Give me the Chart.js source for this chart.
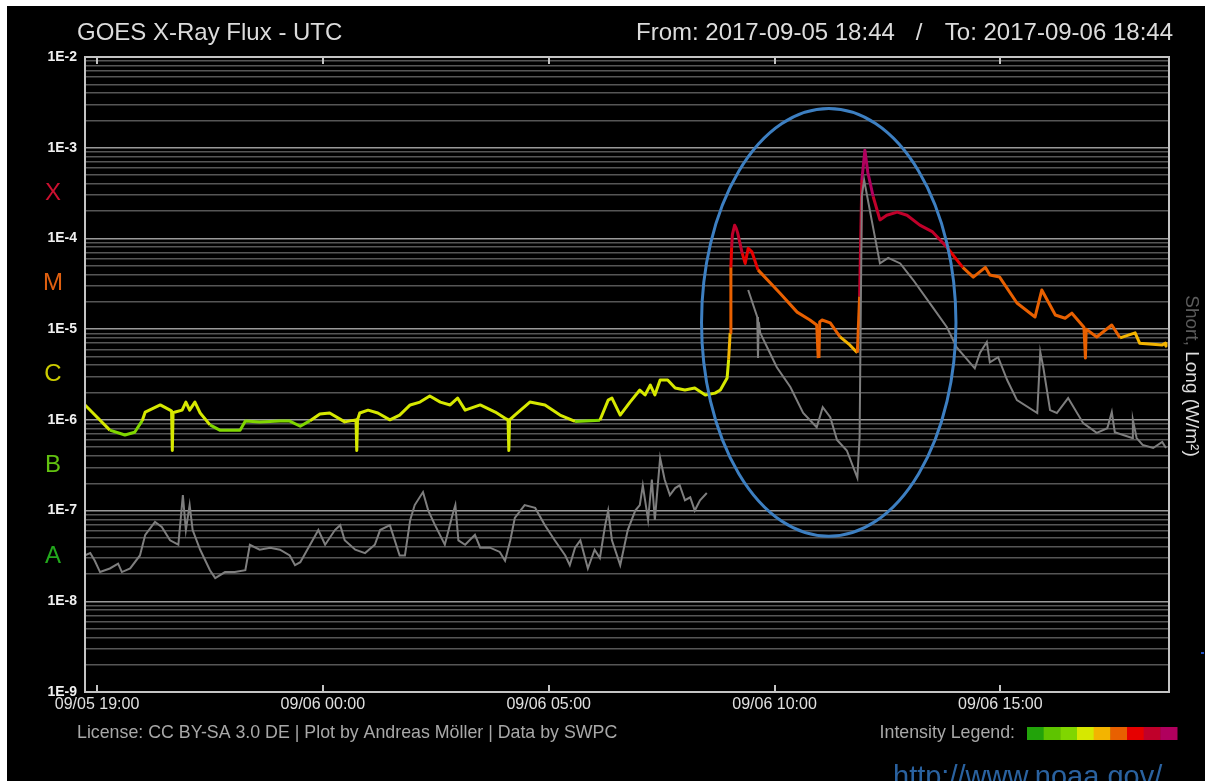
<!DOCTYPE html>
<html>
<head>
<meta charset="utf-8">
<title>GOES X-Ray Flux - UTC</title>
<script src="https://cdn.jsdelivr.net/npm/chart.js@4.4.1/dist/chart.umd.min.js"></script>
<style>
  html, body { margin: 0; padding: 0; background: #fff; }
  canvas { display: block; }
</style>
</head>
<body>
<canvas id="xray" width="1205" height="781"></canvas>
<script>
// time axis: minutes after 2017-09-05 18:44 UTC, flux in W/m2
const longTimes = [0, 33, 53, 66, 76, 80, 100, 113, 115, 116, 117, 120, 129, 134, 139, 146, 153, 166, 179, 206,
  213, 232, 259, 272, 286, 299, 312, 325, 345, 360, 361, 362, 365, 376, 389, 405, 418, 432, 445, 458,
  472, 485, 495, 505, 525, 545, 558, 562, 563, 564, 571, 591, 611, 631, 651, 671, 684, 695, 700, 711,
  724, 737, 744, 751, 757, 764, 774, 784, 797, 810, 824, 837, 844, 853, 855, 857, 858, 859, 860, 863, 865,
  867, 873, 877, 881, 886, 894, 923, 946, 963, 972, 974, 975, 976, 979, 990, 1003, 1016, 1026, 1029, 1032,
  1036, 1040, 1047, 1056, 1065, 1079, 1092, 1109, 1126, 1145, 1166, 1180, 1196, 1202, 1215, 1238, 1262, 1271, 1289, 1302,
  1311, 1327, 1329, 1330, 1344, 1364, 1375, 1395, 1401, 1431, 1435, 1436];
const longFlux = [1.46e-6, 7.7e-7, 6.8e-7, 7.3e-7, 9.8e-7, 1.22e-6, 1.46e-6, 1.28e-6, 1.25e-6, 4.6e-7, 1.2e-6, 1.22e-6, 1.28e-6, 1.57e-6, 1.28e-6, 1.57e-6, 1.19e-6, 8.8e-7, 7.7e-7, 7.7e-7,
  9.7e-7, 9.5e-7, 9.7e-7, 9.7e-7, 8.5e-7, 9.8e-7, 1.16e-6, 1.19e-6, 9.5e-7, 1.0e-6, 4.6e-7, 1.0e-6, 1.19e-6, 1.28e-6, 1.19e-6, 1.0e-6, 1.13e-6, 1.46e-6, 1.57e-6, 1.83e-6,
  1.57e-6, 1.46e-6, 1.74e-6, 1.28e-6, 1.46e-6, 1.22e-6, 1.04e-6, 1.0e-6, 4.6e-7, 1.0e-6, 1.13e-6, 1.57e-6, 1.46e-6, 1.13e-6, 9.6e-7, 9.8e-7, 9.9e-7, 1.65e-6, 1.74e-6, 1.13e-6,
  1.57e-6, 2.13e-6, 1.88e-6, 2.42e-6, 1.88e-6, 2.75e-6, 2.75e-6, 2.24e-6, 2.13e-6, 2.24e-6, 1.88e-6, 1.97e-6, 2.13e-6, 2.9e-6, 4.6e-6, 9.1e-6, 4.8e-5, 8.0e-5, 1.1e-4, 1.4e-4, 1.3e-4,
  1.15e-4, 6.9e-5, 5.3e-5, 7.8e-5, 7.1e-5, 4.5e-5, 2.5e-5, 1.54e-5, 1.26e-5, 1.11e-5, 4.8e-6, 4.8e-6, 1.2e-5, 1.26e-5, 1.17e-5, 8.2e-6, 6.7e-6, 5.5e-6, 2.3e-5, 4.4e-4,
  9.4e-4, 5.3e-4, 2.9e-4, 1.6e-4, 1.8e-4, 1.95e-4, 1.8e-4, 1.4e-4, 1.18e-4, 8.0e-5, 4.8e-5, 3.75e-5, 4.8e-5, 3.95e-5, 3.75e-5, 1.94e-5, 1.36e-5, 2.7e-5, 1.43e-5, 1.32e-5,
  1.5e-5, 1.05e-5, 4.8e-6, 1.0e-5, 8.2e-6, 1.11e-5, 8.0e-6, 9.1e-6, 7.0e-6, 6.7e-6, 7.0e-6, 6.5e-6];

const shortTimes = [0, 7, 13, 20, 33, 44, 49, 60, 73, 80, 93, 102, 113, 124, 130, 134, 139, 143, 153, 166,
  173, 186, 199, 213, 219, 232, 246, 259, 272, 279, 286, 299, 310, 319, 332, 339, 345, 359, 372, 385,
  392, 405, 418, 425, 432, 438, 449, 456, 465, 478, 488, 492, 496, 505, 518, 525, 538, 551, 558, 565,
  571, 584, 598, 611, 624, 638, 644, 651, 658, 668, 677, 684, 691, 695, 700, 711, 721, 731, 737, 741,
  748, 753, 757, 764, 770, 777, 784, 790, 797, 804, 810, 817, 826, 840, 881, 893, 894, 895, 897, 919,
  937, 954, 972, 980, 990, 999, 1012, 1026, 1029, 1032, 1035, 1045, 1056, 1067, 1083, 1100, 1126, 1145, 1158, 1182,
  1189, 1198, 1202, 1213, 1225, 1238, 1265, 1269, 1273, 1282, 1291, 1306, 1326, 1344, 1358, 1364, 1368, 1391, 1392, 1397,
  1405, 1419, 1431, 1436];
const shortFlux = [3.2e-8, 3.4e-8, 2.8e-8, 2.1e-8, 2.3e-8, 2.6e-8, 2.1e-8, 2.3e-8, 3.2e-8, 5.4e-8, 7.5e-8, 6.6e-8, 4.7e-8, 4.2e-8, 1.48e-7, 6.1e-8, 1.15e-7, 6.1e-8, 3.7e-8, 2.2e-8,
  1.8e-8, 2.1e-8, 2.1e-8, 2.2e-8, 4.2e-8, 3.7e-8, 3.9e-8, 3.7e-8, 3.2e-8, 2.5e-8, 2.7e-8, 4.2e-8, 6.1e-8, 4.2e-8, 6.1e-8, 6.9e-8, 4.7e-8, 3.7e-8, 3.4e-8, 4.2e-8,
  6.1e-8, 6.9e-8, 3.2e-8, 3.2e-8, 7.9e-8, 1.15e-7, 1.6e-7, 1.0e-7, 6.9e-8, 4.2e-8, 8.9e-8, 1.15e-7, 4.7e-8, 4.2e-8, 5.4e-8, 3.9e-8, 3.9e-8, 3.5e-8, 2.8e-8, 4.7e-8,
  8.3e-8, 1.15e-7, 1.07e-7, 6.9e-8, 4.7e-8, 3.2e-8, 2.5e-8, 3.9e-8, 4.7e-8, 2.3e-8, 3.7e-8, 3.0e-8, 6.9e-8, 1.0e-7, 4.7e-8, 2.5e-8, 6.1e-8, 1.0e-7, 1.15e-7, 1.9e-7,
  7.9e-8, 2.2e-7, 7.9e-8, 3.8e-7, 2.2e-7, 1.48e-7, 1.77e-7, 1.9e-7, 1.3e-7, 1.4e-7, 1.0e-7, 1.3e-7, 1.56e-7, null, 2.7e-5, 1.36e-5, 4.8e-6, 1.2e-5, 9.1e-6, 3.8e-6,
  2.3e-6, 1.19e-6, 8.3e-7, 1.38e-6, 1.07e-6, 6.0e-7, 4.6e-7, 2.3e-7, 6.5e-7, 3.0e-4, 4.4e-4, 1.6e-4, 5.3e-5, 6.1e-5, 5.3e-5, 3.5e-5, 1.75e-5, 1.05e-5, 6.3e-6, 3.7e-6,
  5.5e-6, 7.2e-6, 4.3e-6, 4.9e-6, 2.75e-6, 1.65e-6, 1.19e-6, 5.6e-6, 3.8e-6, 1.28e-6, 1.19e-6, 1.74e-6, 9.2e-7, 7.2e-7, 8.1e-7, 1.22e-6, 7.3e-7, 6.3e-7, 1.0e-6, 6.3e-7,
  5.3e-7, 4.9e-7, 5.7e-7, 4.9e-7];

const xTickMinutes = [16, 316, 616, 916, 1216];
const xTickLabels = ['09/05 19:00', '09/06 00:00', '09/06 05:00', '09/06 10:00', '09/06 15:00'];
const yDecades = [1e-9, 1e-8, 1e-7, 1e-6, 1e-5, 1e-4, 1e-3, 1e-2];
const yDecadeLabels = ['1E-9', '1E-8', '1E-7', '1E-6', '1E-5', '1E-4', '1E-3', '1E-2'];
const flareClasses = ['A', 'B', 'C', 'M', 'X'];
const flareClassBase = [1e-8, 1e-7, 1e-6, 1e-5, 1e-4];
const intensityLevels = [1e-7, 5e-7, 1e-6, 5e-6, 1e-5, 5e-5, 1e-4, 5e-4];
// circled region (time range, flux range)
const circled = { from: 819, to: 1157, top: 2.7e-3, bottom: 5.2e-8 };

const classColors = ['#22a81c', '#62c210', '#cccc00', '#e06010', '#cc1030'];
const intensityColors = ['#22a30a', '#5ec400', '#80d600', '#d6e800', '#f3b400', '#e86000', '#e60000', '#c0002a', '#b0005e'];
const FONT = "'Liberation Sans', Arial, sans-serif";

// gridlines at 1..9 x each decade
const yGridValues = [];
yDecades.forEach((d, i) => {
  if (i === yDecades.length - 1) { yGridValues.push(d); return; }
  for (let k = 1; k <= 9; k++) yGridValues.push(d * k);
});
const decadeIndex = v => yDecades.findIndex(d => Math.abs(d - v) / d < 1e-6);

function intensityColor(v) {
  let i = 0;
  while (i < intensityLevels.length && v >= intensityLevels[i]) i++;
  return intensityColors[i];
}

const goesFrame = {
  id: 'goesFrame',
  beforeDraw(chart) {
    const c = chart.ctx;
    c.save();
    c.fillStyle = '#000';
    c.fillRect(7, 6, chart.width - 7, chart.height - 6);
    c.restore();
  },
  afterDraw(chart) {
    const c = chart.ctx, a = chart.chartArea, xs = chart.scales.x, ys = chart.scales.y;
    c.save();

    // plot frame and inner ticks
    c.strokeStyle = '#c4c4c4';
    c.lineWidth = 2;
    c.strokeRect(a.left, a.top, a.right - a.left, a.bottom - a.top);
    c.beginPath();
    xs.ticks.forEach(t => {
      const px = Math.round(xs.getPixelForValue(t.value));
      c.moveTo(px, a.top); c.lineTo(px, a.top + 7);
      c.moveTo(px, a.bottom); c.lineTo(px, a.bottom - 7);
    });
    c.stroke();

    // flare class letters
    c.font = '24px ' + FONT;
    c.textAlign = 'center';
    c.textBaseline = 'middle';
    flareClasses.forEach((L, i) => {
      c.fillStyle = classColors[i];
      c.fillText(L, 53, ys.getPixelForValue(flareClassBase[i] * Math.sqrt(10)));
    });

    // header
    c.fillStyle = '#dcdcdc';
    c.font = '24px ' + FONT;
    c.textAlign = 'left';
    c.fillText('GOES X-Ray Flux - UTC', 77, 33);
    c.fillText('From: 2017-09-05 18:44', 636, 33);
    c.textAlign = 'center';
    c.fillText('/', 919, 33);
    c.textAlign = 'right';
    c.fillText('To: 2017-09-06 18:44', 1173, 33);

    // footer
    c.font = '17.8px ' + FONT;
    c.fillStyle = '#a8a8a8';
    c.textAlign = 'left';
    c.fillText('License: CC BY-SA 3.0 DE | Plot by Andreas Möller | Data by SWPC', 77, 733);
    c.textAlign = 'right';
    c.fillText('Intensity Legend:', 1015, 733);
    const bw = 150 / intensityColors.length;
    intensityColors.forEach((col, i) => {
      c.fillStyle = col;
      c.fillRect(1027 + i * bw, 727, bw + 0.5, 13);
    });

    // right axis title
    c.save();
    c.translate(1191, 376);
    c.rotate(Math.PI / 2);
    c.font = '19px ' + FONT;
    c.textAlign = 'left';
    const p1 = 'Short, ', p2 = 'Long (W/m²)';
    const w1 = c.measureText(p1).width, w2 = c.measureText(p2).width;
    c.fillStyle = '#5c5c5c';
    c.fillText(p1, -(w1 + w2) / 2, 0);
    c.fillStyle = '#dedede';
    c.fillText(p2, -(w1 + w2) / 2 + w1, 0);
    c.restore();

    // circled flares
    const x0 = xs.getPixelForValue(circled.from), x1 = xs.getPixelForValue(circled.to);
    const y0 = ys.getPixelForValue(circled.top), y1 = ys.getPixelForValue(circled.bottom);
    c.strokeStyle = '#3d7fc1';
    c.lineWidth = 3;
    c.beginPath();
    c.ellipse((x0 + x1) / 2, (y0 + y1) / 2, (x1 - x0) / 2, (y1 - y0) / 2, 0, 0, Math.PI * 2);
    c.stroke();

    // source link
    c.fillStyle = '#2a62a0';
    c.font = '29px ' + FONT;
    c.textAlign = 'left';
    c.textBaseline = 'alphabetic';
    c.fillText('http://www.noaa.gov/', 893, 786);
    c.fillStyle = '#2050c0';
    c.fillRect(1201, 652, 3, 2);

    c.restore();
  }
};

new Chart(document.getElementById('xray'), {
  type: 'line',
  data: {
    datasets: [
      {
        label: 'Short',
        data: shortTimes.map((t, i) => ({ x: t, y: shortFlux[i] })),
        borderColor: '#7e7e7e',
        borderWidth: 2,
        pointRadius: 0,
        tension: 0,
        spanGaps: false,
        order: 0
      },
      {
        label: 'Long',
        data: longTimes.map((t, i) => ({ x: t, y: longFlux[i] })),
        borderColor: intensityColors[3],
        segment: {
          borderColor: ctx => intensityColor(Math.max(ctx.p0.parsed.y, ctx.p1.parsed.y))
        },
        borderWidth: 3,
        pointRadius: 0,
        tension: 0,
        borderJoinStyle: 'round',
        order: 1
      }
    ]
  },
  options: {
    responsive: false,
    animation: false,
    devicePixelRatio: 1,
    events: [],
    layout: { padding: { left: 8, top: 57, right: 36, bottom: 0 } },
    plugins: { legend: { display: false }, tooltip: { enabled: false } },
    scales: {
      x: {
        type: 'linear',
        min: 0,
        max: 1440,
        afterBuildTicks: s => { s.ticks = xTickMinutes.map(v => ({ value: v })); },
        afterFit: s => { s.height = 89; },
        grid: { display: false, drawTicks: false },
        border: { display: false },
        ticks: {
          callback: (v, i) => xTickLabels[i],
          color: '#e0e0e0',
          font: { family: FONT, size: 16 },
          padding: 3,
          maxRotation: 0,
          autoSkip: false
        }
      },
      y: {
        type: 'logarithmic',
        min: 1e-9,
        max: 1e-2,
        afterBuildTicks: s => { s.ticks = yGridValues.map(v => ({ value: v })); },
        afterFit: s => { s.width = 77; },
        grid: {
          color: ctx => decadeIndex(ctx.tick.value) >= 0 ? '#9a9a9a' : '#565656',
          lineWidth: 1.5,
          drawTicks: false
        },
        border: { display: false },
        ticks: {
          callback: v => { const i = decadeIndex(v); return i >= 0 ? yDecadeLabels[i] : ''; },
          color: '#f0f0f0',
          font: { family: FONT, size: 14, weight: 'bold' },
          padding: 8,
          autoSkip: false
        }
      }
    }
  },
  plugins: [goesFrame]
});
</script>
</body>
</html>
